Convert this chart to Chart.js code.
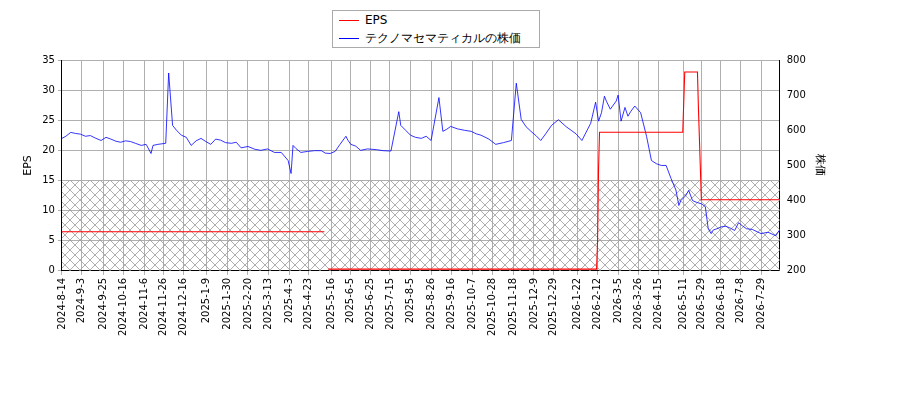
<!DOCTYPE html>
<html><head><meta charset="utf-8">
<script src="https://cdn.jsdelivr.net/npm/chart.js@4"></script>
<style>body{margin:0;background:#fff}#w{position:relative;width:900px;height:400px}
#lg{position:absolute;left:332px;top:10px;width:206px;height:36px;border:1px solid #aaa;background:#fff;font:12px 'DejaVu Sans';z-index:2}
#lg div{position:absolute;left:6px;height:16px;line-height:16px}
#lg span{display:inline-block;width:20px;height:0;border-top:1.2px solid;vertical-align:middle;margin-right:6px}
</style></head>
<body><div id="w"><div id="lg"><div style="top:1px"><span style="border-color:#f00"></span>EPS</div><div style="top:19px"><span style="border-color:#00f"></span>テクノマセマティカルの株価</div></div><canvas id="c" width="900" height="400"></canvas></div>
<script>
const tickDates=["2024-8-14","2024-9-3","2024-9-25","2024-10-16","2024-11-6","2024-11-26","2024-12-16","2025-1-9","2025-1-30","2025-2-20","2025-3-13","2025-4-3","2025-4-23","2025-5-16","2025-6-5","2025-6-25","2025-7-15","2025-8-5","2025-8-26","2025-9-16","2025-10-7","2025-10-28","2025-11-18","2025-12-9","2025-12-29","2026-1-22","2026-2-12","2026-3-5","2026-3-26","2026-4-15","2026-5-11","2026-5-29","2026-6-18","2026-7-8","2026-7-29"];
const epsDates=["2024-8-14","2025-5-9",null,"2025-5-13","2026-2-11","2026-2-12","2026-2-13","2026-2-14","2026-5-10","2026-5-11","2026-5-12","2026-5-25","2026-5-26","2026-5-29","2026-8-17"];
const epsValues=[6.5,6.5,null,0.3,0.3,5,17,23,23,28,33,33,27,11.8,11.8];
const priceDates=["2024-8-14","2024-8-18","2024-8-23","2024-8-28","2024-9-2","2024-9-7","2024-9-12","2024-9-17","2024-9-23","2024-9-28","2024-10-3","2024-10-8","2024-10-13","2024-10-18","2024-10-23","2024-10-28","2024-11-3","2024-11-8","2024-11-13","2024-11-15","2024-11-20","2024-11-28","2024-12-1","2024-12-5","2024-12-9","2024-12-14","2024-12-19","2024-12-24","2024-12-29","2025-1-3","2025-1-8","2025-1-13","2025-1-18","2025-1-23","2025-1-28","2025-2-3","2025-2-8","2025-2-13","2025-2-20","2025-2-27","2025-3-5","2025-3-12","2025-3-19","2025-3-26","2025-4-2","2025-4-5","2025-4-7","2025-4-10","2025-4-15","2025-4-22","2025-4-29","2025-5-6","2025-5-10","2025-5-15","2025-5-20","2025-5-25","2025-5-31","2025-6-2","2025-6-5","2025-6-10","2025-6-15","2025-6-22","2025-7-1","2025-7-8","2025-7-16","2025-7-24","2025-7-26","2025-7-31","2025-8-5","2025-8-10","2025-8-16","2025-8-21","2025-8-26","2025-9-3","2025-9-7","2025-9-11","2025-9-15","2025-9-22","2025-9-29","2025-10-6","2025-10-11","2025-10-16","2025-10-24","2025-10-31","2025-11-8","2025-11-16","2025-11-21","2025-11-26","2025-12-1","2025-12-6","2025-12-11","2025-12-16","2025-12-21","2025-12-27","2026-1-3","2026-1-11","2026-1-16","2026-1-21","2026-1-27","2026-2-5","2026-2-10","2026-2-13","2026-2-16","2026-2-19","2026-2-21","2026-2-25","2026-3-3","2026-3-5","2026-3-8","2026-3-12","2026-3-15","2026-3-18","2026-3-22","2026-3-28","2026-4-3","2026-4-8","2026-4-13","2026-4-18","2026-4-23","2026-4-28","2026-5-3","2026-5-6","2026-5-8","2026-5-13","2026-5-16","2026-5-20","2026-5-24","2026-5-29","2026-6-2","2026-6-5","2026-6-8","2026-6-10","2026-6-14","2026-6-18","2026-6-23","2026-6-28","2026-7-2","2026-7-6","2026-7-10","2026-7-14","2026-7-20","2026-7-29","2026-8-5","2026-8-13","2026-8-17"];
const priceValues=[577,583,594,591,589,583,585,578,571,580,575,569,566,570,568,563,557,560,534,557,560,563,763,614,600,586,580,557,570,577,568,560,575,572,565,563,566,550,554,546,543,547,537,537,514,477,557,548,537,540,542,542,535,534,540,560,583,572,560,555,543,547,545,542,541,653,614,600,586,580,577,583,571,693,597,603,611,604,600,597,590,586,575,560,565,571,734,631,610,597,585,571,590,614,630,610,600,590,571,620,680,626,650,697,683,660,683,700,626,665,640,654,669,650,583,514,505,500,500,463,430,386,400,414,429,400,395,391,383,320,306,316,320,325,327,321,315,337,328,320,318,306,310,300,317];
const epsTicks=[0,5,10,15,20,25,30,35];
const priceTicks=[200,300,400,500,600,700,800];
const D0=Date.UTC(2024,7,14);
function day(s){const p=s.split('-').map(Number);return (Date.UTC(p[0],p[1]-1,p[2])-D0)/864e5;}
function lab(d){const t=new Date(D0+Math.round(d)*864e5);return t.getUTCFullYear()+'-'+(t.getUTCMonth()+1)+'-'+t.getUTCDate();}
const pc=document.createElement('canvas');pc.width=10;pc.height=10;const g=pc.getContext('2d');
g.strokeStyle='#9a9a9a';g.lineWidth=0.8;g.beginPath();g.moveTo(0,0);g.lineTo(10,10);g.moveTo(10,0);g.lineTo(0,10);g.stroke();
const hatch={id:'hatch',beforeDatasetsDraw(ch){const c=ch.ctx,a=ch.chartArea,y=ch.scales.y;c.save();c.fillStyle=c.createPattern(pc,'repeat');const t=y.getPixelForValue(15),b=y.getPixelForValue(0);c.fillRect(a.left,t,a.right-a.left,b-t);c.restore();}};
Chart.defaults.font.family='DejaVu Sans';Chart.defaults.font.size=10;Chart.defaults.color='#000';
const ch=new Chart(document.getElementById('c'),{type:'line',plugins:[hatch],
data:{datasets:[
{label:'EPS',data:epsDates.map((d,i)=>d?{x:day(d),y:epsValues[i]}:{x:268.5,y:null}),borderColor:'#ff0000',borderWidth:1.1,pointRadius:0,yAxisID:'y',spanGaps:false},
{label:'テクノマセマティカルの株価',data:priceDates.map((d,i)=>({x:day(d),y:priceValues[i]})),borderColor:'#0000ff',borderWidth:0.8,pointRadius:0,yAxisID:'y1'}]},
options:{responsive:false,animation:false,
layout:{padding:{left:18,right:70,top:60,bottom:61}},
plugins:{legend:{display:false},tooltip:{enabled:false}},
scales:{
x:{type:'linear',min:0,max:day("2026-8-17"),afterBuildTicks(s){s.ticks=tickDates.map(d=>({value:day(d)}));},
ticks:{autoSkip:false,maxRotation:90,minRotation:90,callback:v=>lab(v)},grid:{color:'#b0b0b0',tickLength:4},border:{color:'#000'}},
y:{position:'left',min:0,max:35,afterBuildTicks(s){s.ticks=epsTicks.map(v=>({value:v}));},title:{display:true,text:'EPS',font:{size:11}},grid:{color:'#b0b0b0',tickLength:4},border:{color:'#000'}},
y1:{position:'right',min:200,max:800,afterBuildTicks(s){s.ticks=priceTicks.map(v=>({value:v}));},title:{display:true,text:'株価',font:{size:11}},grid:{display:false,tickLength:4},border:{color:'#000'}}
}}});
</script></body></html>
